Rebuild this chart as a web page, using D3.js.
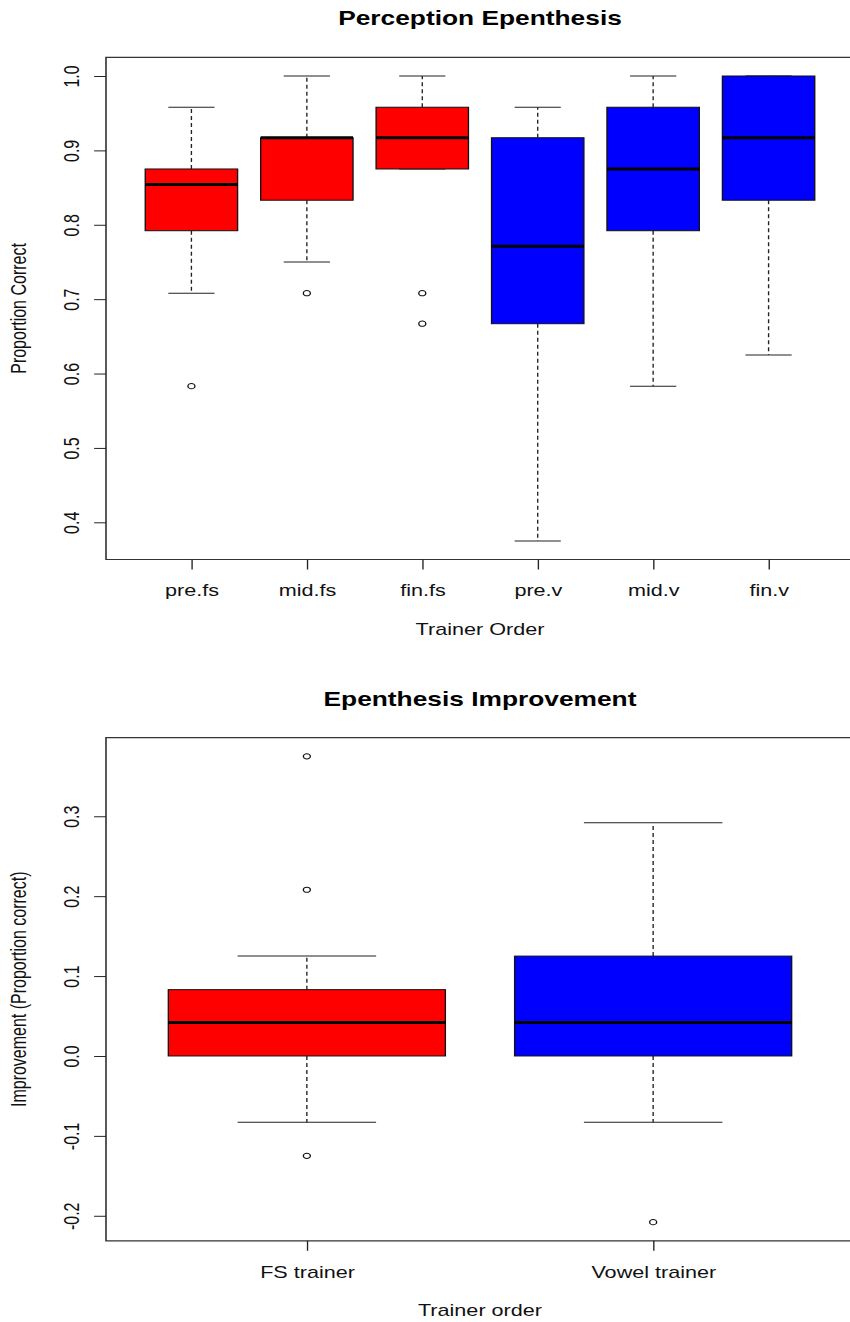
<!DOCTYPE html>
<html>
<head>
<meta charset="utf-8">
<script src="https://cdn.jsdelivr.net/npm/d3@7"></script>
<style>
  html, body { margin: 0; padding: 0; background: #fff; overflow: hidden; }
  svg { display: block; overflow: hidden; }
  text { font-family: "Liberation Sans", Arial, Helvetica, sans-serif; fill: #000; }
</style>
</head>
<body>
<svg id="chart" width="850" height="1322"></svg>
<script>
// ---- Perception Epenthesis: proportion correct by trainer order ----
const categories   = ["pre.fs", "mid.fs", "fin.fs", "pre.v", "mid.v", "fin.v"];
const trainerGroup = ["fs", "fs", "fs", "v", "v", "v"];
const lowWhisker   = [0.708, 0.750, 0.875, 0.375, 0.583, 0.625];
const lowerQuart   = [0.792, 0.833, 0.875, 0.667, 0.792, 0.833];
const medians      = [0.854, 0.917, 0.917, 0.771, 0.875, 0.917];
const upperQuart   = [0.875, 0.917, 0.958, 0.917, 0.958, 1.000];
const highWhisker  = [0.958, 1.000, 1.000, 0.958, 1.000, 1.000];
const outliers     = [[0.583], [0.708], [0.708, 0.667], [], [], []];
const yTicksTop    = [0.4, 0.5, 0.6, 0.7, 0.8, 0.9, 1.0];

// ---- Epenthesis Improvement: change in proportion correct ----
const trainers       = ["FS trainer", "Vowel trainer"];
const trainerKind    = ["fs", "v"];
const impLowWhisker  = [-0.083, -0.083];
const impLowerQuart  = [0.000, 0.000];
const impMedians     = [0.042, 0.042];
const impUpperQuart  = [0.083, 0.125];
const impHighWhisker = [0.125, 0.292];
const impOutliers    = [[0.375, 0.208, -0.125], [-0.208]];
const yTicksBottom   = [-0.2, -0.1, 0.0, 0.1, 0.2, 0.3];

const fillFor = { fs: "#ff0000", v: "#0000ff" };

// The device is wider than it is drawn: everything is laid out in a narrower
// coordinate space and then stretched horizontally.
const K = 1.35;
const plotLeft = 106 / K, plotRight = 854 / K;
const FONT = 16;

const svg = d3.select("#chart");
const root = svg.append("g").attr("transform", `scale(${K},1)`);

function paddedDomain(values) {
  const [lo, hi] = d3.extent(values);
  const pad = (hi - lo) * 0.04;
  return [lo - pad, hi + pad];
}

function drawPanel(cfg) {
  const n = cfg.cats.length;
  const all = [].concat(cfg.low, cfg.high, cfg.q1, cfg.q3, ...cfg.out);
  const x = d3.scaleLinear()
    .domain([0.5 - 0.04 * n, n + 0.5 + 0.04 * n])
    .range([plotLeft, plotRight]);
  const y = d3.scaleLinear().domain(paddedDomain(all)).range([cfg.bottom, cfg.top]);
  const step = x(2) - x(1);
  const boxW = step * 0.8, stapleW = boxW / 2;

  const g = root.append("g");

  const rows = cfg.cats.map((c, i) => ({
    cat: c, pos: i + 1, kind: cfg.kind[i],
    low: cfg.low[i], q1: cfg.q1[i], med: cfg.med[i], q3: cfg.q3[i], high: cfg.high[i],
    out: cfg.out[i]
  }));

  const box = g.selectAll("g.box").data(rows).join("g").attr("class", "box");

  // whiskers (dashed) from the box edges to the extremes
  box.append("line")
    .attr("x1", d => x(d.pos)).attr("x2", d => x(d.pos))
    .attr("y1", d => y(d.q3)).attr("y2", d => y(d.high))
    .attr("stroke", "#222").attr("stroke-width", 1).attr("stroke-dasharray", "4,3");
  box.append("line")
    .attr("x1", d => x(d.pos)).attr("x2", d => x(d.pos))
    .attr("y1", d => y(d.q1)).attr("y2", d => y(d.low))
    .attr("stroke", "#222").attr("stroke-width", 1).attr("stroke-dasharray", "4,3");

  // staples
  box.append("line")
    .attr("x1", d => x(d.pos) - stapleW / 2).attr("x2", d => x(d.pos) + stapleW / 2)
    .attr("y1", d => y(d.high)).attr("y2", d => y(d.high))
    .attr("stroke", "#222").attr("stroke-width", 1);
  box.append("line")
    .attr("x1", d => x(d.pos) - stapleW / 2).attr("x2", d => x(d.pos) + stapleW / 2)
    .attr("y1", d => y(d.low)).attr("y2", d => y(d.low))
    .attr("stroke", "#222").attr("stroke-width", 1);

  // boxes
  box.append("rect")
    .attr("x", d => x(d.pos) - boxW / 2).attr("width", boxW)
    .attr("y", d => y(d.q3)).attr("height", d => y(d.q1) - y(d.q3))
    .attr("fill", d => fillFor[d.kind])
    .attr("stroke", "#111").attr("stroke-width", 1);

  // medians
  box.append("line")
    .attr("x1", d => x(d.pos) - boxW / 2).attr("x2", d => x(d.pos) + boxW / 2)
    .attr("y1", d => y(d.med)).attr("y2", d => y(d.med))
    .attr("stroke", "#000").attr("stroke-width", 3);

  // outliers
  box.selectAll("circle").data(d => d.out.map(v => ({ pos: d.pos, v })))
    .join("circle")
    .attr("cx", d => x(d.pos)).attr("cy", d => y(d.v)).attr("r", 2.6)
    .attr("fill", "none").attr("stroke", "#111").attr("stroke-width", 1);

  // frame (its right side lies past the edge of the page)
  g.append("path")
    .attr("d", `M${plotRight},${cfg.top}H${plotLeft}V${cfg.bottom}H${plotRight}`)
    .attr("fill", "none").attr("stroke", "#333").attr("stroke-width", 1.2);

  // y axis
  const yAxis = g.append("g").attr("transform", `translate(${plotLeft},0)`)
    .call(d3.axisLeft(y).tickValues(cfg.yTicks).tickSize(8.8)
      .tickFormat(d => d.toFixed(1)));
  yAxis.select(".domain").remove();
  yAxis.attr("font-family", null).attr("font-size", null);
  yAxis.selectAll(".tick line").attr("stroke", "#222");
  yAxis.selectAll(".tick text")
    .attr("x", 0).attr("y", 0).attr("dy", 0)
    .attr("transform", `translate(${58.5 - plotLeft},0) rotate(-90)`)
    .attr("text-anchor", "middle")
    .style("font-size", FONT + "px").style("fill", "#111");

  // x axis
  const xAxis = g.append("g").attr("transform", `translate(0,${cfg.bottom})`)
    .call(d3.axisBottom(x).tickValues(rows.map(r => r.pos)).tickSize(10)
      .tickFormat(p => cfg.cats[p - 1]));
  xAxis.select(".domain").remove();
  xAxis.attr("font-family", null).attr("font-size", null);
  xAxis.selectAll(".tick line").attr("stroke", "#222");
  xAxis.selectAll(".tick text")
    .attr("y", 37).attr("dy", 0)
    .style("font-size", FONT + "px").style("fill", "#111");

  const midX = (plotLeft + plotRight) / 2;
  // title
  g.append("text")
    .attr("x", midX).attr("y", cfg.top - 32)
    .attr("text-anchor", "middle")
    .style("font-size", "19.5px").style("font-weight", "bold")
    .text(cfg.title);
  // axis titles
  g.append("text")
    .attr("x", midX).attr("y", cfg.bottom + 75.5)
    .attr("text-anchor", "middle")
    .style("font-size", FONT + "px").style("fill", "#111")
    .text(cfg.xTitle);
  g.append("text")
    .attr("transform", `translate(19.5,${(cfg.top + cfg.bottom) / 2}) rotate(-90)`)
    .attr("text-anchor", "middle")
    .style("font-size", FONT + "px").style("fill", "#111")
    .text(cfg.yTitle);
}

drawPanel({
  cats: categories, kind: trainerGroup,
  low: lowWhisker, q1: lowerQuart, med: medians, q3: upperQuart, high: highWhisker,
  out: outliers, yTicks: yTicksTop,
  top: 57.4, bottom: 559.5,
  title: "Perception Epenthesis", xTitle: "Trainer Order", yTitle: "Proportion Correct"
});

drawPanel({
  cats: trainers, kind: trainerKind,
  low: impLowWhisker, q1: impLowerQuart, med: impMedians, q3: impUpperQuart, high: impHighWhisker,
  out: impOutliers, yTicks: yTicksBottom,
  top: 737.7, bottom: 1240.8,
  title: "Epenthesis Improvement", xTitle: "Trainer order", yTitle: "Improvement (Proportion correct)"
});
</script>
</body>
</html>
